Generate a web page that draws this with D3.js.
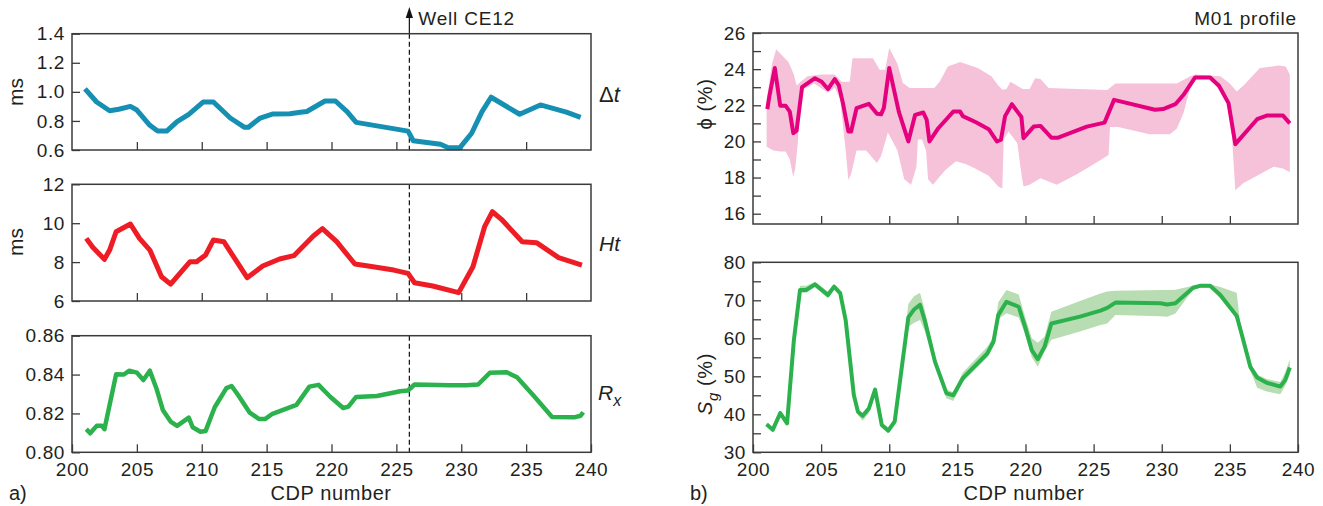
<!DOCTYPE html>
<html><head><meta charset="utf-8">
<script src="https://cdn.jsdelivr.net/npm/d3@7"></script>
<style>
body{margin:0;background:#fff}
text{font-family:"Liberation Sans",Arial,sans-serif;fill:#231f20}
</style></head><body>
<svg id="c" width="1323" height="506"></svg>
<script>
// ---------- data ----------
const dtX=[201.0,201.9,202.9,203.6,204.5,205.0,206.0,206.6,207.3,208.1,209.0,210.1,210.9,212.2,213.3,213.6,214.5,215.5,216.8,217.6,218.1,219.5,220.3,221.2,221.9,225.9,226.3,228.4,229.0,229.9,230.8,231.6,232.3,234.5,236.1,238.1,239.2];
const dtV=[1.02,0.93,0.87,0.88,0.90,0.875,0.77,0.73,0.73,0.795,0.845,0.93,0.93,0.82,0.756,0.756,0.82,0.848,0.85,0.86,0.865,0.937,0.937,0.864,0.79,0.73,0.664,0.64,0.616,0.616,0.715,0.864,0.963,0.846,0.91,0.86,0.825];

const htX=[201.1,201.6,202.5,202.9,203.4,204.5,205.2,206.0,206.9,207.6,209.1,209.6,210.3,210.9,211.7,212.7,213.5,214.7,216.0,217.1,218.6,219.3,220.4,221.8,223.2,224.8,225.9,226.4,227.8,229.8,230.9,231.8,232.4,233.1,234.7,235.8,237.5,239.3];
const htV=[9.22,8.76,8.14,8.62,9.56,9.96,9.22,8.62,7.25,6.87,8.02,8.02,8.37,9.14,9.05,8.02,7.2,7.8,8.16,8.33,9.34,9.72,9.05,7.9,7.76,7.59,7.42,6.94,6.77,6.43,7.76,9.82,10.59,10.2,9.05,9.0,8.23,7.85];

const rxX=[201.1,201.4,201.9,202.3,202.5,203.4,204.0,204.4,205.0,205.5,206.0,206.5,207.0,207.6,208.1,209.0,209.3,209.9,210.3,211.0,211.9,212.3,212.8,213.7,214.4,214.9,215.4,217.3,218.3,219.0,219.9,220.9,221.3,221.9,223.5,225.3,225.9,226.4,229.1,230.4,231.3,232.2,233.5,234.3,235.6,237.0,238.7,239.2,239.4];
const rxV=[0.8119,0.8098,0.8136,0.8136,0.8119,0.8401,0.840,0.842,0.841,0.8372,0.842,0.833,0.8218,0.8158,0.8136,0.8178,0.8129,0.8106,0.811,0.8232,0.833,0.8341,0.8295,0.8204,0.8172,0.8172,0.8196,0.8244,0.8338,0.8347,0.8286,0.8228,0.8235,0.8285,0.829,0.8314,0.8318,0.8349,0.8345,0.8345,0.8349,0.8409,0.8412,0.8386,0.829,0.8182,0.818,0.8188,0.8206];

const phiX=[201.05,201.2,201.6,202.0,202.4,202.7,202.96,203.2,203.6,204.55,205.04,205.5,206.0,206.3,206.6,207.0,207.2,207.6,208.5,209.1,209.4,209.6,210.0,210.7,211.4,211.9,212.5,212.75,212.95,213.6,214.7,215.2,215.4,216.4,217.3,217.9,218.2,218.5,219.0,219.7,219.85,220.6,221.1,221.9,222.4,224.5,225.8,226.5,229.5,230.1,231.0,231.6,232.45,233.55,234.2,234.9,235.4,237.0,237.7,238.9,239.4];
const phiV=[21.79,22.49,24.06,21.97,21.97,21.65,20.46,20.6,23.0,23.5,23.3,22.9,23.45,23.1,22.12,20.55,20.55,21.84,22.08,21.53,21.5,21.84,24.06,21.65,20.0,21.47,21.6,21.19,20.0,20.73,21.65,21.65,21.4,21.05,20.68,20.0,20.1,21.4,22.06,21.35,20.18,20.82,20.86,20.21,20.21,20.82,21.04,22.3,21.75,21.79,22.06,22.58,23.54,23.54,23.08,22.12,19.85,21.23,21.43,21.43,21.0];

const phiUpX=[201.0,201.4,201.7,202.6,203.0,203.2,203.5,204.0,205.0,206.0,206.5,207.1,207.3,208.0,208.8,209.3,209.7,210.0,210.6,211.0,211.5,213.3,213.7,214.3,215.2,216.5,217.5,218.0,218.3,218.6,218.9,219.8,220.3,220.7,221.1,221.7,226.0,226.6,231.1,232.1,232.5,234.3,235.0,235.5,236.0,237.2,238.6,239.1,239.4];
const phiUp=[22.3,24.3,25.1,24.4,23.7,23.1,23.3,23.6,23.7,23.7,23.3,23.3,24.6,24.6,24.6,23.97,23.97,25.17,24.3,23.23,22.95,22.95,23.3,24.15,24.4,24.06,23.6,23.1,22.86,22.9,23.3,22.9,22.9,23.5,23.45,22.95,22.85,23.2,23.2,23.6,23.7,23.6,23.2,22.76,23.1,24.06,24.2,24.15,23.7];
const phiLoX=[201.0,201.5,202.0,202.4,202.7,202.95,203.1,203.3,203.5,204.5,205.5,206.0,206.4,206.8,207.0,207.2,207.6,208.3,209.1,209.4,209.9,210.6,211.1,211.6,212.0,212.1,212.4,212.7,212.85,213.2,214.1,214.9,215.6,216.3,217.3,218.0,218.3,218.4,218.75,219.4,219.7,219.85,220.3,221.1,222.3,223.8,224.7,226.1,226.2,226.8,229.1,230.6,231.1,231.6,232.1,232.45,233.55,234.8,235.15,235.4,236.0,237.0,238.2,238.9,239.4];
const phiLo=[19.7,19.5,19.44,19.44,19.0,18.05,18.5,20.0,22.8,23.2,22.7,23.0,22.3,19.5,17.87,18.2,19.5,19.5,18.8,19.2,20.5,19.5,17.9,17.6,18.6,20.1,20.1,19.5,17.9,17.6,18.4,18.9,18.75,18.5,18.1,17.5,17.4,20.1,20.55,19.9,18.2,17.5,17.6,17.96,17.6,18.2,18.6,19.25,20.8,20.8,20.4,20.4,20.7,21.57,23.0,23.5,23.5,22.3,20.3,17.3,17.7,18.1,18.6,18.5,18.3];

const sgX=[201.0,201.45,202.0,202.5,203.0,203.45,203.9,204.55,205.5,205.95,206.4,206.8,207.4,207.7,208.05,208.5,208.96,209.45,209.93,210.4,211.4,211.8,212.26,212.6,213.36,214.2,214.7,215.4,217.2,217.65,218.0,218.6,219.5,219.97,220.46,220.9,221.4,221.9,224.0,225.5,226.0,226.6,229.9,230.4,231.0,232.3,232.8,233.55,234.3,235.5,235.8,236.5,237.0,237.7,238.7,239.06,239.4];
const sgV=[37.4,35.9,40.3,37.6,59.5,72.7,72.7,74.2,71.4,73.6,71.9,64.8,45.1,40.7,39.6,41.5,46.5,37.2,35.7,38.1,65.5,67.5,68.8,64.8,53.8,45.5,45.0,49.5,56.0,59.1,66.1,69.6,68.3,63.0,56.9,54.5,57.8,63.9,65.7,67.3,68.0,69.4,69.2,68.9,69.2,73.3,73.8,73.8,71.4,65.9,62.0,52.5,49.7,48.3,47.3,49.0,52.3];
const sgLo=[37.0,35.5,39.8,37.1,59.0,72.0,72.0,73.5,70.5,72.8,71.2,64.0,44.3,39.8,38.3,40.3,45.8,36.6,35.0,37.4,63.0,64.0,64.8,62.0,53.0,44.2,43.5,48.5,55.0,58.5,65.0,66.6,65.5,61.0,55.0,52.5,56.5,59.6,61.8,63.5,63.9,66.1,65.8,65.7,66.5,72.8,73.3,73.3,70.5,65.0,61.0,51.5,47.0,46.0,45.3,47.5,50.5];
const sgHi=[37.8,36.3,40.8,38.2,60.3,73.8,73.8,74.8,72.3,74.2,72.5,65.5,45.8,41.5,40.3,42.3,47.2,37.8,36.5,38.8,69.0,71.0,72.0,67.5,55.0,46.5,45.8,51.0,57.8,60.5,69.5,72.7,71.5,65.7,60.0,58.8,60.5,67.0,69.8,71.8,72.3,72.5,72.7,72.7,72.8,73.8,74.2,74.2,73.5,72.0,62.8,53.5,50.5,49.3,48.5,51.0,54.5];

const xTicksInner=[205,210,215,220,225,230,235];
const xTickLabels=[200,205,210,215,220,225,230,235,240];
const dtTicks=[0.6,0.8,1.0,1.2,1.4];
const htTicks=[6,8,10,12];
const rxTicks=[0.80,0.82,0.84,0.86];
const phiTicks=[16,18,20,22,24,26];
const phiMinor=[17,19,21,23,25];
const sgTicks=[30,40,50,60,70,80];
const sgMinor=[35,45,55,65,75];
const wellCDP=226;

// ---------- layout ----------
const svg=d3.select("#c");
const C={blue:"#1590b3",red:"#ee1d25",green:"#2bb24c",mag:"#e5007e",pink:"#f6c2da",lgreen:"#b9ddb3",frame:"#3b3b3b"};
const xL=d3.scaleLinear().domain([200,240]).range([72,591]);
const xR=d3.scaleLinear().domain([200,240]).range([753,1298]);

const panels=[
 {x:xL,y:d3.scaleLinear().domain([0.6,1.4]).range([150,33.7]),ticks:dtTicks,fmt:d3.format(".1f")},
 {x:xL,y:d3.scaleLinear().domain([6,12]).range([301,184.3]),ticks:htTicks,fmt:d3.format("d")},
 {x:xL,y:d3.scaleLinear().domain([0.80,0.86]).range([452.3,335.7]),ticks:rxTicks,fmt:d3.format(".2f"),xlab:true},
 {x:xR,y:d3.scaleLinear().domain([15.43,26]).range([224,33]),ticks:phiTicks,minor:phiMinor,fmt:d3.format("d")},
 {x:xR,y:d3.scaleLinear().domain([30,80]).range([452.3,262.3]),ticks:sgTicks,minor:sgMinor,fmt:d3.format("d"),xlab:true}
];

function styleText(sel){
  sel.attr("font-size",19).attr("letter-spacing","0.6px").attr("fill","#231f20")
    .attr("font-family","Liberation Sans, Arial, sans-serif");
}
function drawAxes(p){
  const [x0,x1]=p.x.range(), [yb,yt]=p.y.range();
  const g=svg.append("g");
  const ya=g.append("g").attr("transform",`translate(${x0},0)`)
    .call(d3.axisLeft(p.y).tickValues(p.ticks).tickFormat(p.fmt).tickSize(-8).tickPadding(7));
  ya.select(".domain").remove();
  ya.selectAll("line").attr("stroke",C.frame).attr("stroke-width",1.3);
  styleText(ya.selectAll("text"));
  if(p.minor){
    const ym=g.append("g").attr("transform",`translate(${x0},0)`)
      .call(d3.axisLeft(p.y).tickValues(p.minor).tickFormat("").tickSize(-8));
    ym.select(".domain").remove();
    ym.selectAll("line").attr("stroke",C.frame).attr("stroke-width",1.3);
  }
  const xa=g.append("g").attr("transform",`translate(0,${yb})`)
    .call(d3.axisBottom(p.x).tickValues(p.xlab?xTickLabels:xTicksInner).tickFormat(p.xlab?d3.format("d"):"").tickSize(-8).tickPadding(10));
  xa.select(".domain").remove();
  xa.selectAll("line").attr("stroke",C.frame).attr("stroke-width",1.3);
  styleText(xa.selectAll("text"));
  return g;
}
function frame(p){
  const [x0,x1]=p.x.range(), [yb,yt]=p.y.range();
  svg.append("rect").attr("x",x0).attr("y",yt).attr("width",x1-x0).attr("height",yb-yt)
    .attr("fill","none").attr("stroke",C.frame).attr("stroke-width",1.5);
}
function line(p,xs,vs,color,w){
  const pts=xs.map((d,i)=>[d,vs[i]]);
  const gen=d3.line().x(d=>p.x(d[0])).y(d=>p.y(d[1]));
  svg.append("path").datum(pts)
    .attr("d",gen)
    .attr("fill","none").attr("stroke",color).attr("stroke-width",w)
    .attr("stroke-linejoin","round").attr("stroke-linecap","butt");
}

// bands first
{
  const p=panels[3];
  const up=phiUpX.map((d,i)=>[d,phiUp[i]]);
  const lo=phiLoX.map((d,i)=>[d,phiLo[i]]).reverse();
  const gen=d3.line().x(d=>p.x(d[0])).y(d=>p.y(d[1]));
  svg.append("path").datum(up.concat(lo))
    .attr("d",d=>gen(d)+"Z")
    .attr("fill",C.pink).attr("stroke","none");
}
{
  const p=panels[4];
  const pts=sgX.map((d,i)=>({x:d,lo:sgLo[i],hi:sgHi[i]}));
  svg.append("path").datum(pts)
    .attr("d",d3.area().x(d=>p.x(d.x)).y0(d=>p.y(d.lo)).y1(d=>p.y(d.hi)))
    .attr("fill",C.lgreen);
}

panels.forEach(p=>drawAxes(p));

// well dashed lines
const wx=xL(wellCDP);
panels.slice(0,3).forEach(p=>{
  const [yb,yt]=p.y.range();
  svg.append("line").attr("x1",wx).attr("x2",wx).attr("y1",yt).attr("y2",yb)
    .attr("stroke","#111").attr("stroke-width",1.2).attr("stroke-dasharray","5,3");
});
svg.append("line").attr("x1",wx).attr("x2",wx).attr("y1",16).attr("y2",panels[0].y.range()[1])
  .attr("stroke","#111").attr("stroke-width",1.2);
svg.append("path").attr("d",`M${wx},7 L${wx-3.6},18 L${wx+3.6},18 Z`).attr("fill","#111");

line(panels[0],dtX,dtV,C.blue,5);
line(panels[1],htX,htV,C.red,5);
line(panels[2],rxX,rxV,C.green,4.5);
line(panels[3],phiX,phiV,C.mag,4);
line(panels[4],sgX,sgV,C.green,4);

panels.forEach(frame);

// ---------- texts ----------
const T=(x,y,s,size,anchor)=>svg.append("text").attr("x",x).attr("y",y).attr("font-size",size)
  .attr("text-anchor",anchor||"start").text(s);

T(wx+9,25,"Well CE12",19).attr("letter-spacing","0.8px");
T(1297,25,"M01 profile",19,"end").attr("letter-spacing","0.8px");

{
  const t=svg.append("text").attr("x",599).attr("y",102).attr("font-size",22);
  t.append("tspan").text("Δ");
  t.append("tspan").attr("font-style","italic").text("t");
}
T(599,251,"Ht",21).attr("font-style","italic");
{
  const t=svg.append("text").attr("x",598).attr("y",400).attr("font-size",21).attr("font-style","italic");
  t.append("tspan").text("R");
  t.append("tspan").attr("dy",6).attr("font-size",16).text("x");
}

const R=(x,y,size)=>svg.append("text").attr("transform",`translate(${x},${y}) rotate(-90)`)
  .attr("font-size",size).attr("text-anchor","middle");
R(23,92,21).text("ms");
R(23,242,21).text("ms");
R(712,104,20).attr("letter-spacing","0.6px").text("ϕ (%)");
{
  const t=R(712,384,20).attr("letter-spacing","0.6px");
  t.append("tspan").attr("font-style","italic").text("S");
  t.append("tspan").attr("font-style","italic").attr("dy",6).attr("font-size",15).text("g");
  t.append("tspan").attr("dy",-6).text(" (%)");
}

T(331,500,"CDP number",20,"middle").attr("letter-spacing","0.6px");
T(1024,500,"CDP number",20,"middle").attr("letter-spacing","0.6px");
T(9,500,"a)",20);
T(690,500,"b)",20);
</script>
</body></html>
